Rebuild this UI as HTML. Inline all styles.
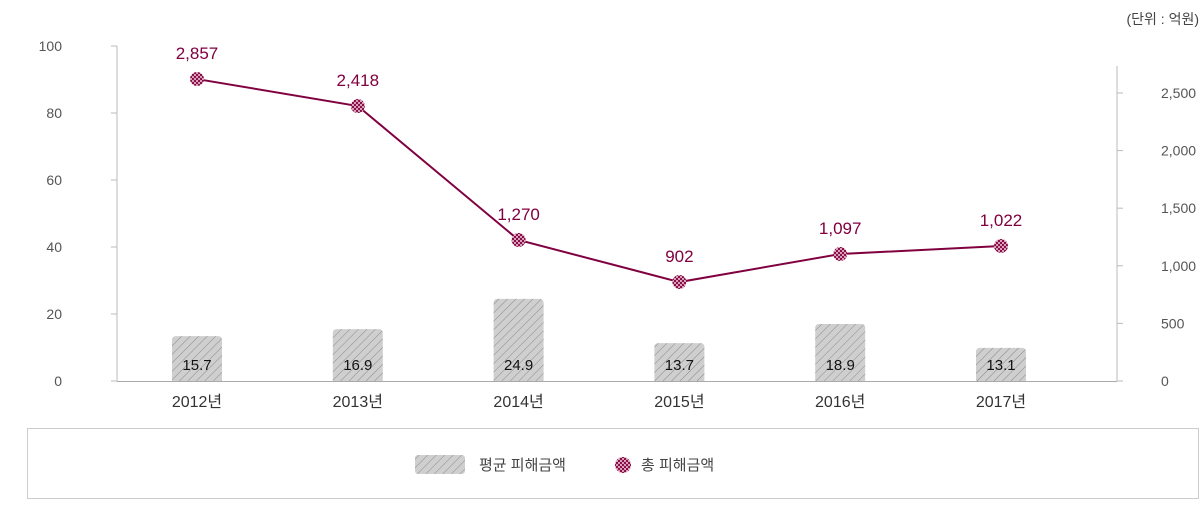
<!DOCTYPE html>
<html><head><meta charset="utf-8"><style>
body{margin:0;background:#fff;font-family:"Liberation Sans","Noto Sans CJK KR",sans-serif}
svg text{font-family:"Liberation Sans","Noto Sans CJK KR",sans-serif}
</style></head><body>
<svg id="c" width="1200" height="500" xmlns="http://www.w3.org/2000/svg">
<defs>
<pattern id="hatch" width="6" height="6" patternUnits="userSpaceOnUse" patternTransform="rotate(45)">
<rect width="6" height="6" fill="#cfcfcf"/><line x1="0" y1="0" x2="0" y2="6" stroke="#8a8a8a" stroke-width="1"/>
</pattern>
<pattern id="check" width="4" height="4" patternUnits="userSpaceOnUse">
<rect width="4" height="4" fill="#8a1048"/><rect width="2" height="2" fill="#d9a0bb"/><rect x="2" y="2" width="2" height="2" fill="#d9a0bb"/>
</pattern>
</defs>
<text x="1199" y="24" text-anchor="end" font-size="14" fill="#444">(단위 : 억원)</text>
<g id="axes"></g><g id="bars"></g><g id="line"></g>
<rect x="27.5" y="428.5" width="1171" height="70" fill="none" stroke="#ccc"/>
<g>
<rect x="415" y="455" width="50" height="19" rx="3" fill="url(#hatch)"/>
<text x="479" y="470" font-size="15" fill="#444">평균 피해금액</text></g>
<g>
<circle cx="623" cy="465" r="8" fill="url(#check)"/>
<text x="641" y="470" font-size="15" fill="#444">총 피해금액</text></g>
</svg>
<script>
const categories=["2012년","2013년","2014년","2015년","2016년","2017년"];
const avgValues=[13.4,15.5,24.5,11.3,17.0,9.9];
const avgLabels=["15.7","16.9","24.9","13.7","18.9","13.1"];
const totalValues=[2621,2387,1224,859,1102,1172];
const totalLabels=["2,857","2,418","1,270","902","1,097","1,022"];
const leftTicks=[0,20,40,60,80,100];
const rightTicks=[0,500,1000,1500,2000,2500];
const rightTickLabels=["0","500","1,000","1,500","2,000","2,500"];
const NS="http://www.w3.org/2000/svg";
const x0=117,x1=1117,yb=381;
const xs=i=>197+i*160.8;
const yL=v=>yb-v*3.35;
const yR=v=>yb-v*0.1152;
function mk(t,a,p){const e=document.createElementNS(NS,t);for(const k in a)e.setAttribute(k,a[k]);p.appendChild(e);return e;}
const ax=document.getElementById('axes');
const l1=mk('line',{x1:x0,y1:46,x2:x0,y2:yb,stroke:'#bbb'},ax);


const l2=mk('line',{x1:x1,y1:66,x2:x1,y2:yb,stroke:'#bbb'},ax);


const l3=mk('line',{x1:x0,y1:yb+.5,x2:x1,y2:yb+.5,stroke:'#aaa'},ax);


leftTicks.forEach(v=>{const y=yL(v);mk('line',{x1:x0-6,y1:y,x2:x0,y2:y,stroke:'#bbb'},ax);
const t=mk('text',{x:62,y:y+5,'text-anchor':'end','font-size':14,fill:'#555'},ax);t.textContent=v;

});
rightTicks.forEach((v,i)=>{const y=yR(v);mk('line',{x1:x1,y1:y,x2:x1+6,y2:y,stroke:'#bbb'},ax);
const t=mk('text',{x:1161,y:y+5,'font-size':14,fill:'#555'},ax);t.textContent=rightTickLabels[i];

});
categories.forEach((c,i)=>{const t=mk('text',{x:xs(i),y:407,'text-anchor':'middle','font-size':16,fill:'#333'},ax);t.textContent=c;

});
const bg=document.getElementById('bars');
avgValues.forEach((v,i)=>{const y=yL(v);
const r=mk('path',{d:`M${xs(i)-25},${yb} V${y+4} Q${xs(i)-25},${y} ${xs(i)-21},${y} H${xs(i)+21} Q${xs(i)+25},${y} ${xs(i)+25},${y+4} V${yb} Z`,fill:'url(#hatch)'},bg);


const t=mk('text',{x:xs(i),y:370,'text-anchor':'middle','font-size':15,fill:'#111'},bg);t.textContent=avgLabels[i];

});
const lg=document.getElementById('line');
const pl=mk('polyline',{points:totalValues.map((v,i)=>xs(i)+','+yR(v)).join(' '),fill:'none',stroke:'#800040','stroke-width':2},lg);


totalValues.forEach((v,i)=>{const y=yR(v);
const c=mk('circle',{cx:xs(i),cy:y,r:7,fill:'url(#check)'},lg);


const t=mk('text',{x:xs(i),y:y-20,'text-anchor':'middle','font-size':17,fill:'#800040'},lg);t.textContent=totalLabels[i];

});
</script>
</body></html>
